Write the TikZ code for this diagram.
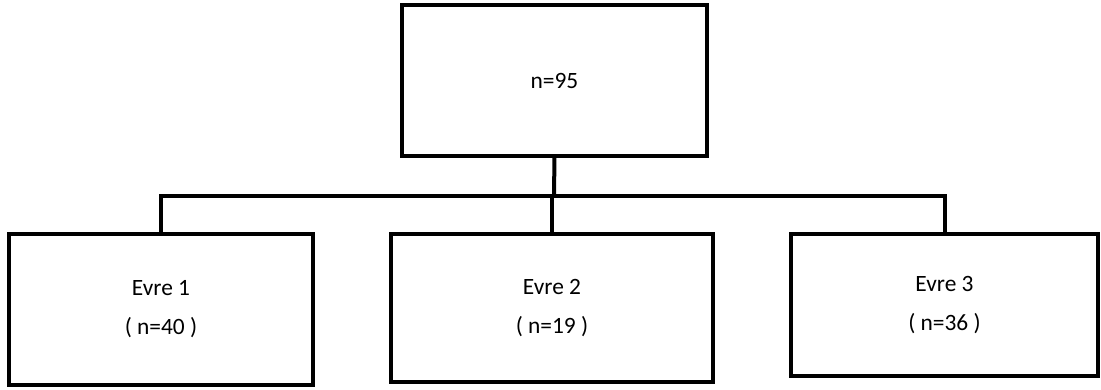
\documentclass[tikz,border=0pt]{standalone}
\usepackage{fontspec}
\setmainfont{Carlito}
\begin{document}
\begin{tikzpicture}[x=1pt,y=-1pt,
  box/.style={draw,line width=4pt,rectangle,inner sep=0pt,outer sep=0pt,align=center,
    font=\fontsize{23.4}{39}\selectfont},
  conn/.style={line width=4pt}]
\useasboundingbox (0,0) rectangle (1101,389);
\node[box,minimum width=305pt,minimum height=151pt] (top) at (554.5,80.5) {n=95};
\node[box,minimum width=304pt,minimum height=151pt] (e1) at (161,309.5) {Evre 1\\( n=40 )};
\node[box,minimum width=322pt,minimum height=148pt] (e2) at (552,308) {Evre 2\\( n=19 )};
\node[box,minimum width=307pt,minimum height=142pt] (e3) at (944.5,305) {Evre 3\\( n=36 )};
\coordinate (j) at (554,196);
\draw[conn] (top.south) -- (j);
\draw[conn] (e1.north) |- (j) -| (e3.north);
\draw[conn] (e2.north) -- (e2.north |- j);
\end{tikzpicture}
\end{document}
